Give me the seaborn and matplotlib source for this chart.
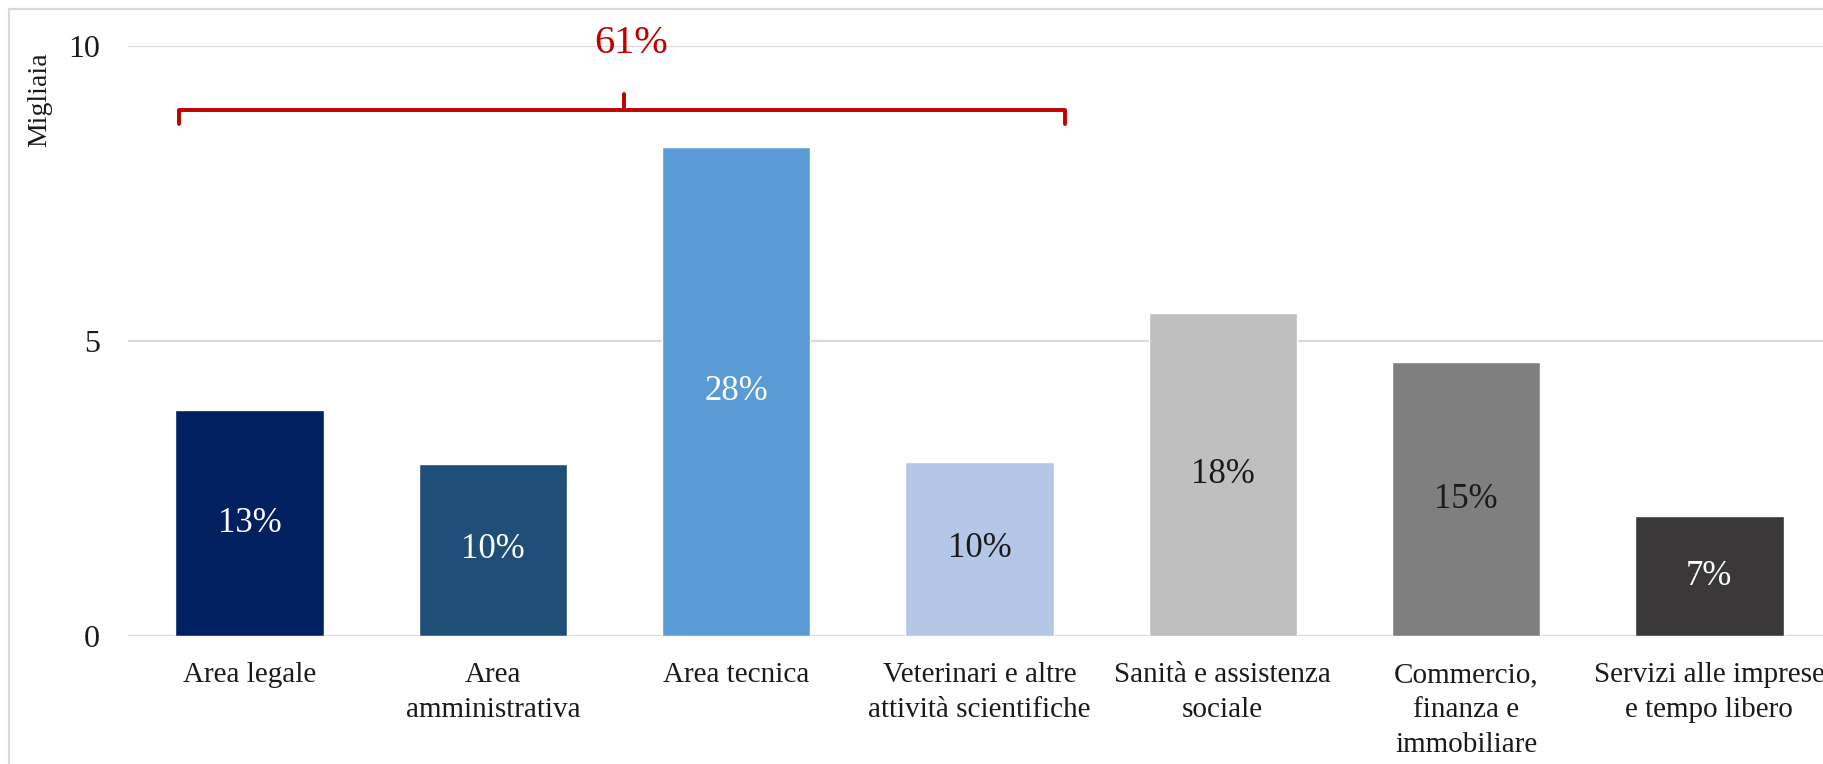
import matplotlib
matplotlib.use("Agg")
import matplotlib.pyplot as plt
import seaborn as sns
import pandas as pd
from matplotlib.patches import Rectangle

# data (migliaia)
categories = ["Area legale", "Area\namministrativa", "Area tecnica",
              "Veterinari e altre\nattività scientifiche", "Sanità e assistenza\nsociale",
              "Commercio,\nfinanza e\nimmobiliare", "Servizi alle imprese\ne tempo libero"]
values = [3.83, 2.92, 8.30, 2.96, 5.48, 4.64, 2.03]
shares = ["13%", "10%", "28%", "10%", "18%", "15%", "7%"]
bar_colors = ["#002060", "#1F4E79", "#5B9BD5", "#B4C7E7", "#BFBFBF", "#7F7F7F", "#3A3838"]
label_colors = ["white", "white", "white", "#1a1a1a", "#1a1a1a", "#1a1a1a", "white"]
brace_text = "61%"

sns.set_style("white")
plt.rcParams["font.family"] = ["Liberation Serif", "DejaVu Serif"]

df = pd.DataFrame({"cat": categories, "val": values})

fig = plt.figure(figsize=(18.24, 7.64), dpi=100)
ax = fig.add_axes([128 / 1824, 128 / 764, 1703 / 1824, 589.5 / 764])

sns.barplot(data=df, x="cat", y="val", hue="cat", palette=bar_colors,
            legend=False, width=0.61, saturation=1, ax=ax)

ax.set_ylim(0, 10)
ax.set_xlim(-0.5, 6.5)
ax.set_yticks([0, 5, 10])
ax.set_xticks(range(len(categories)), categories, linespacing=1.45)
ax.yaxis.grid(True, color="#D9D9D9", linewidth=1.6)
ax.set_axisbelow(True)
for s in ax.spines.values():
    s.set_visible(False)
ax.tick_params(axis="both", length=0, labelsize=21, colors="#1a1a1a")
ax.tick_params(axis="y", labelsize=23, pad=20)
ax.tick_params(axis="x", pad=19)
ax.set_xlabel("")
ax.set_ylabel("")

# percent labels inside the bars
for i, (v, s) in enumerate(zip(values, shares)):
    ax.text(i, v / 2, s, ha="center", va="center", fontsize=25, color=label_colors[i])

# unit label
fig.text(40 / 1824, 1 - 100 / 764, "Migliaia", rotation=90, ha="center", va="center",
         fontsize=20, color="#1a1a1a")

# red brace over the first four groups
red = "#C00000"
x0, x1, xm = -0.29, 3.35, 1.54
ax.plot([x0, x0, x1, x1], [8.68, 8.92, 8.92, 8.68], color=red, lw=2.8,
        solid_joinstyle="round", solid_capstyle="round", clip_on=False)
ax.plot([xm, xm], [8.92, 9.2], color=red, lw=2.8, solid_capstyle="round", clip_on=False)
ax.text(xm + 0.03, 10.05, brace_text, ha="center", va="center", fontsize=29,
        color=red, clip_on=False)

# light grey frame
fig.patches.append(Rectangle((9 / 1824, -0.1), 1.2, 1 - 9 / 764 + 0.1,
                             transform=fig.transFigure, fill=False,
                             edgecolor="#D9D9D9", linewidth=1.6))

fig.savefig("out.png", dpi=100, facecolor="white")
